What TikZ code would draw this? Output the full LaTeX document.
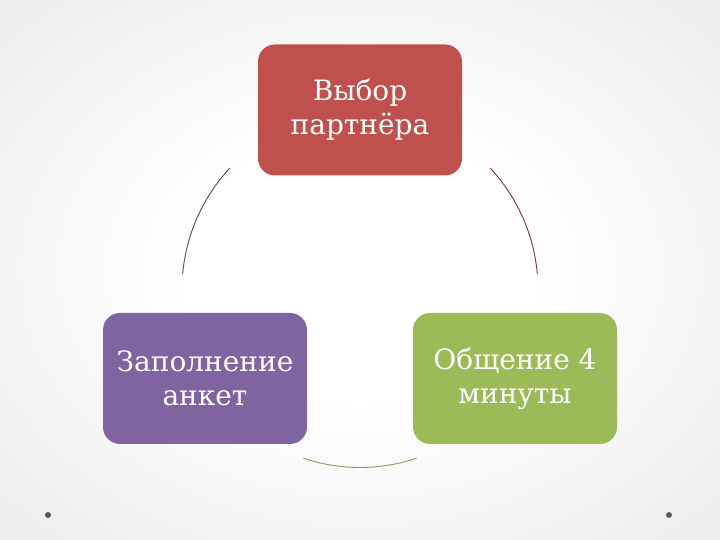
\documentclass[tikz,border=0pt]{standalone}
\usepackage{fontspec}
\setmainfont{DejaVu Serif}
\usetikzlibrary{positioning}

\definecolor{stagered}{HTML}{C0504D}
\definecolor{stagepurple}{HTML}{8064A2}
\definecolor{stagegreen}{HTML}{9BBB59}
\definecolor{arcleft}{HTML}{4F4A6E}
\definecolor{arcright}{HTML}{7A3447}
\definecolor{arcbottom}{HTML}{8A9A5A}
\definecolor{dotgray}{HTML}{5A5A5A}
\pgfdeclareradialshading{slidebg}{\pgfpoint{0bp}{0bp}}{color(0bp)=(white); color(12bp)=(white); color(71bp)=(black!19)}

\tikzset{stage/.style={rectangle,rounded corners=17pt,minimum width=204pt,minimum height=131pt,
    inner sep=0pt,text=white,align=center,font=\fontsize{28}{34}\selectfont}}

\begin{document}
\begin{tikzpicture}[x=1pt,y=1pt]
\shade[shading=slidebg] (0,0) rectangle (720,540);
\useasboundingbox (0,0) rectangle (720,540);

\node[stage,fill=stagered]    (partner) at (360,430)   {Выбор\\партнёра};
\node[stage,fill=stagepurple] (form)    at (205,161.5) {Заполнение\\анкет};
\node[stage,fill=stagegreen]  (talk)    at (515,161.5) {Общение 4\\минуты};

% cycle arcs
\coordinate (hub) at (360,250.5);
\draw[arcleft,line width=0.9pt]   ([shift={(137:178)}]hub) arc[start angle=137,end angle=175,radius=178];
\draw[arcright,line width=0.9pt]  ([shift={(5:178)}]hub)   arc[start angle=5,end angle=43,radius=178];
\draw[arcbottom,line width=0.9pt] ([shift={(251.5:178)}]hub) arc[start angle=251.5,end angle=288.5,radius=178];

\node[circle,fill=dotgray,minimum size=6pt,inner sep=0pt] (dotleft)  at (48,25)  {};
\node[circle,fill=dotgray,minimum size=6pt,inner sep=0pt] (dotright) at (669,25) {};
\end{tikzpicture}
\end{document}
